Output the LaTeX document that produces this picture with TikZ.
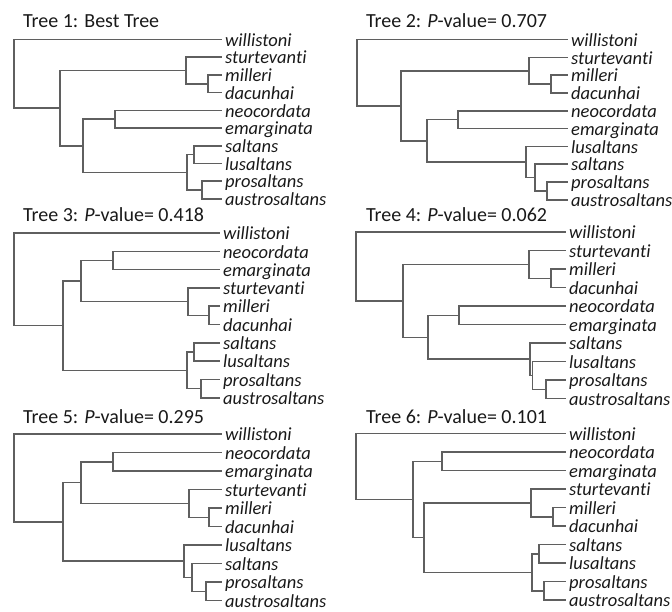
\documentclass[tikz,border=0pt]{standalone}
\usepackage{fontspec}
\setmainfont{Carlito}[Ligatures={NoCommon}]
\definecolor{treegray}{RGB}{95,95,95}
\definecolor{ink}{RGB}{25,25,25}

\begin{document}
\begin{tikzpicture}[x=1pt,y=-1pt,
	branch/.style={draw=treegray,line width=1.6pt},
	leaf/.style={anchor=west,inner xsep=3pt,inner ysep=0pt,text=ink,font=\fontsize{18.5}{18.5}\selectfont\itshape,text height=13.5pt,text depth=0pt},
	title/.style={anchor=base west,inner sep=0pt,text=ink,font=\fontsize{20}{20}\selectfont}]
	\useasboundingbox (0,0) rectangle (672,611);

	% Tree 1
	\node[title] (t1t) at (23,27) {Tree 1: Best Tree};
	\foreach \n/\y in {willistoni/39.5,sturtevanti/57.2,milleri/74.9,dacunhai/92.6,neocordata/110.3,emarginata/128,saltans/145.7,lusaltans/163.4,prosaltans/181.1,austrosaltans/198.8}
		\node[leaf] (t1\n) at (222,\y) {\n};
	\path
	(208,83.8) coordinate (t1m)
	(186,70.5) coordinate (t1s)
	(115,119.2) coordinate (t1e)
	(194,154.6) coordinate (t1l)
	(202,190) coordinate (t1p)
	(187,172.3) coordinate (t1q)
	(83,145.7) coordinate (t1c)
	(60,108.1) coordinate (t1a)
	(14,73.8) coordinate (t1r);
	\draw[branch] (t1m) |- (t1milleri.west) (t1m) |- (t1dacunhai.west)
	(t1s) |- (t1sturtevanti.west) (t1s) |- (t1m)
	(t1e) |- (t1neocordata.west) (t1e) |- (t1emarginata.west)
	(t1l) |- (t1saltans.west) (t1l) |- (t1lusaltans.west)
	(t1p) |- (t1prosaltans.west) (t1p) |- (t1austrosaltans.west)
	(t1q) |- (t1l) (t1q) |- (t1p)
	(t1c) |- (t1e) (t1c) |- (t1q)
	(t1a) |- (t1s) (t1a) |- (t1c)
	(t1r) |- (t1willistoni.west) (t1r) |- (t1a);

	% Tree 2
	\begin{scope}[shift={(336,0)}]
	\node[title] (t2t) at (30,27.5) {Tree 2: \textit{P}-value= 0.707};
	\foreach \n/\y in {willistoni/39.5,sturtevanti/57.3,milleri/75.1,dacunhai/92.9,neocordata/110.7,emarginata/128.5,lusaltans/146.3,saltans/164.1,prosaltans/181.9,austrosaltans/199.7}
		\node[leaf] (t2\n) at (232,\y) {\n};
	\path
	(215,84) coordinate (t2m)
	(193,70.7) coordinate (t2s)
	(122,119.6) coordinate (t2e)
	(211,190.8) coordinate (t2p)
	(199,177.5) coordinate (t2q)
	(190,161.9) coordinate (t2l)
	(91,140.8) coordinate (t2c)
	(65,105.7) coordinate (t2a)
	(21,72.6) coordinate (t2r);
	\draw[branch] (t2m) |- (t2milleri.west) (t2m) |- (t2dacunhai.west)
	(t2s) |- (t2sturtevanti.west) (t2s) |- (t2m)
	(t2e) |- (t2neocordata.west) (t2e) |- (t2emarginata.west)
	(t2p) |- (t2prosaltans.west) (t2p) |- (t2austrosaltans.west)
	(t2q) |- (t2saltans.west) (t2q) |- (t2p)
	(t2l) |- (t2lusaltans.west) (t2l) |- (t2q)
	(t2c) |- (t2e) (t2c) |- (t2l)
	(t2a) |- (t2s) (t2a) |- (t2c)
	(t2r) |- (t2willistoni.west) (t2r) |- (t2a);
	\end{scope}

	% Tree 3
	\begin{scope}[shift={(0,200)}]
	\node[title] (t3t) at (23,21) {Tree 3: \textit{P}-value= 0.418};
	\foreach \n/\y in {willistoni/33,neocordata/51.3,emarginata/69.6,sturtevanti/87.9,milleri/106.2,dacunhai/124.5,saltans/142.8,lusaltans/161.1,prosaltans/179.4,austrosaltans/197.7}
		\node[leaf] (t3\n) at (220,\y) {\n};
	\path
	(113,60.5) coordinate (t3e)
	(209,115.4) coordinate (t3m)
	(188,101.6) coordinate (t3s)
	(81,81) coordinate (t3b)
	(194,152) coordinate (t3l)
	(201,188.5) coordinate (t3p)
	(187,170.3) coordinate (t3q)
	(63,125.6) coordinate (t3a)
	(14,79.3) coordinate (t3r);
	\draw[branch] (t3e) |- (t3neocordata.west) (t3e) |- (t3emarginata.west)
	(t3m) |- (t3milleri.west) (t3m) |- (t3dacunhai.west)
	(t3s) |- (t3sturtevanti.west) (t3s) |- (t3m)
	(t3b) |- (t3e) (t3b) |- (t3s)
	(t3l) |- (t3saltans.west) (t3l) |- (t3lusaltans.west)
	(t3p) |- (t3prosaltans.west) (t3p) |- (t3austrosaltans.west)
	(t3q) |- (t3l) (t3q) |- (t3p)
	(t3a) |- (t3b) (t3a) |- (t3q)
	(t3r) |- (t3willistoni.west) (t3r) |- (t3a);
	\end{scope}

	% Tree 4
	\begin{scope}[shift={(336,200)}]
	\node[title] (t4t) at (30,21) {Tree 4: \textit{P}-value= 0.062};
	\foreach \n/\y in {willistoni/32,sturtevanti/50.5,milleri/69,dacunhai/87.5,neocordata/106,emarginata/124.5,saltans/143,lusaltans/161.5,prosaltans/180,austrosaltans/198.5}
		\node[leaf] (t4\n) at (230,\y) {\n};
	\path
	(215,78.3) coordinate (t4m)
	(193,64.4) coordinate (t4s)
	(123,115.3) coordinate (t4e)
	(210,189.3) coordinate (t4p)
	(196.5,175.4) coordinate (t4q)
	(194,159.2) coordinate (t4l)
	(92,137.3) coordinate (t4c)
	(67,100.8) coordinate (t4a)
	(20,66.4) coordinate (t4r);
	\draw[branch] (t4m) |- (t4milleri.west) (t4m) |- (t4dacunhai.west)
	(t4s) |- (t4sturtevanti.west) (t4s) |- (t4m)
	(t4e) |- (t4neocordata.west) (t4e) |- (t4emarginata.west)
	(t4p) |- (t4prosaltans.west) (t4p) |- (t4austrosaltans.west)
	(t4q) |- (t4lusaltans.west) (t4q) |- (t4p)
	(t4l) |- (t4saltans.west) (t4l) |- (t4q)
	(t4c) |- (t4e) (t4c) |- (t4l)
	(t4a) |- (t4s) (t4a) |- (t4c)
	(t4r) |- (t4willistoni.west) (t4r) |- (t4a);
	\end{scope}

	% Tree 5
	\begin{scope}[shift={(0,405)}]
	\node[title] (t5t) at (23,18) {Tree 5: \textit{P}-value= 0.295};
	\foreach \n/\y in {willistoni/29,neocordata/47.5,emarginata/66,sturtevanti/84.5,milleri/103,dacunhai/121.5,lusaltans/140,saltans/158.5,prosaltans/177,austrosaltans/195.5}
		\node[leaf] (t5\n) at (222,\y) {\n};
	\path
	(113,56.8) coordinate (t5e)
	(209,112.3) coordinate (t5m)
	(189,98.4) coordinate (t5s)
	(81,77.6) coordinate (t5b)
	(206,186.3) coordinate (t5p)
	(192,172.4) coordinate (t5q)
	(184,156.2) coordinate (t5l)
	(63,116.9) coordinate (t5a)
	(14,73) coordinate (t5r);
	\draw[branch] (t5e) |- (t5neocordata.west) (t5e) |- (t5emarginata.west)
	(t5m) |- (t5milleri.west) (t5m) |- (t5dacunhai.west)
	(t5s) |- (t5sturtevanti.west) (t5s) |- (t5m)
	(t5b) |- (t5e) (t5b) |- (t5s)
	(t5p) |- (t5prosaltans.west) (t5p) |- (t5austrosaltans.west)
	(t5q) |- (t5saltans.west) (t5q) |- (t5p)
	(t5l) |- (t5lusaltans.west) (t5l) |- (t5q)
	(t5a) |- (t5b) (t5a) |- (t5l)
	(t5r) |- (t5willistoni.west) (t5r) |- (t5a);
	\end{scope}

	% Tree 6
	\begin{scope}[shift={(336,405)}]
	\node[title] (t6t) at (30,18) {Tree 6: \textit{P}-value= 0.101};
	\foreach \n/\y in {willistoni/28.5,neocordata/47,emarginata/65.5,sturtevanti/84,milleri/102.5,dacunhai/121,saltans/139.5,lusaltans/158,prosaltans/176.5,austrosaltans/195}
		\node[leaf] (t6\n) at (230,\y) {\n};
	\path
	(106,56.3) coordinate (t6e)
	(217,111.8) coordinate (t6m)
	(195,97.9) coordinate (t6s)
	(203,148.8) coordinate (t6l)
	(208,185.8) coordinate (t6p)
	(196,167.3) coordinate (t6q)
	(88,132.6) coordinate (t6b)
	(77,94.5) coordinate (t6a)
	(20,61.5) coordinate (t6r);
	\draw[branch] (t6e) |- (t6neocordata.west) (t6e) |- (t6emarginata.west)
	(t6m) |- (t6milleri.west) (t6m) |- (t6dacunhai.west)
	(t6s) |- (t6sturtevanti.west) (t6s) |- (t6m)
	(t6l) |- (t6saltans.west) (t6l) |- (t6lusaltans.west)
	(t6p) |- (t6prosaltans.west) (t6p) |- (t6austrosaltans.west)
	(t6q) |- (t6l) (t6q) |- (t6p)
	(t6b) |- (t6s) (t6b) |- (t6q)
	(t6a) |- (t6e) (t6a) |- (t6b)
	(t6r) |- (t6willistoni.west) (t6r) |- (t6a);
	\end{scope}
\end{tikzpicture}
\end{document}
